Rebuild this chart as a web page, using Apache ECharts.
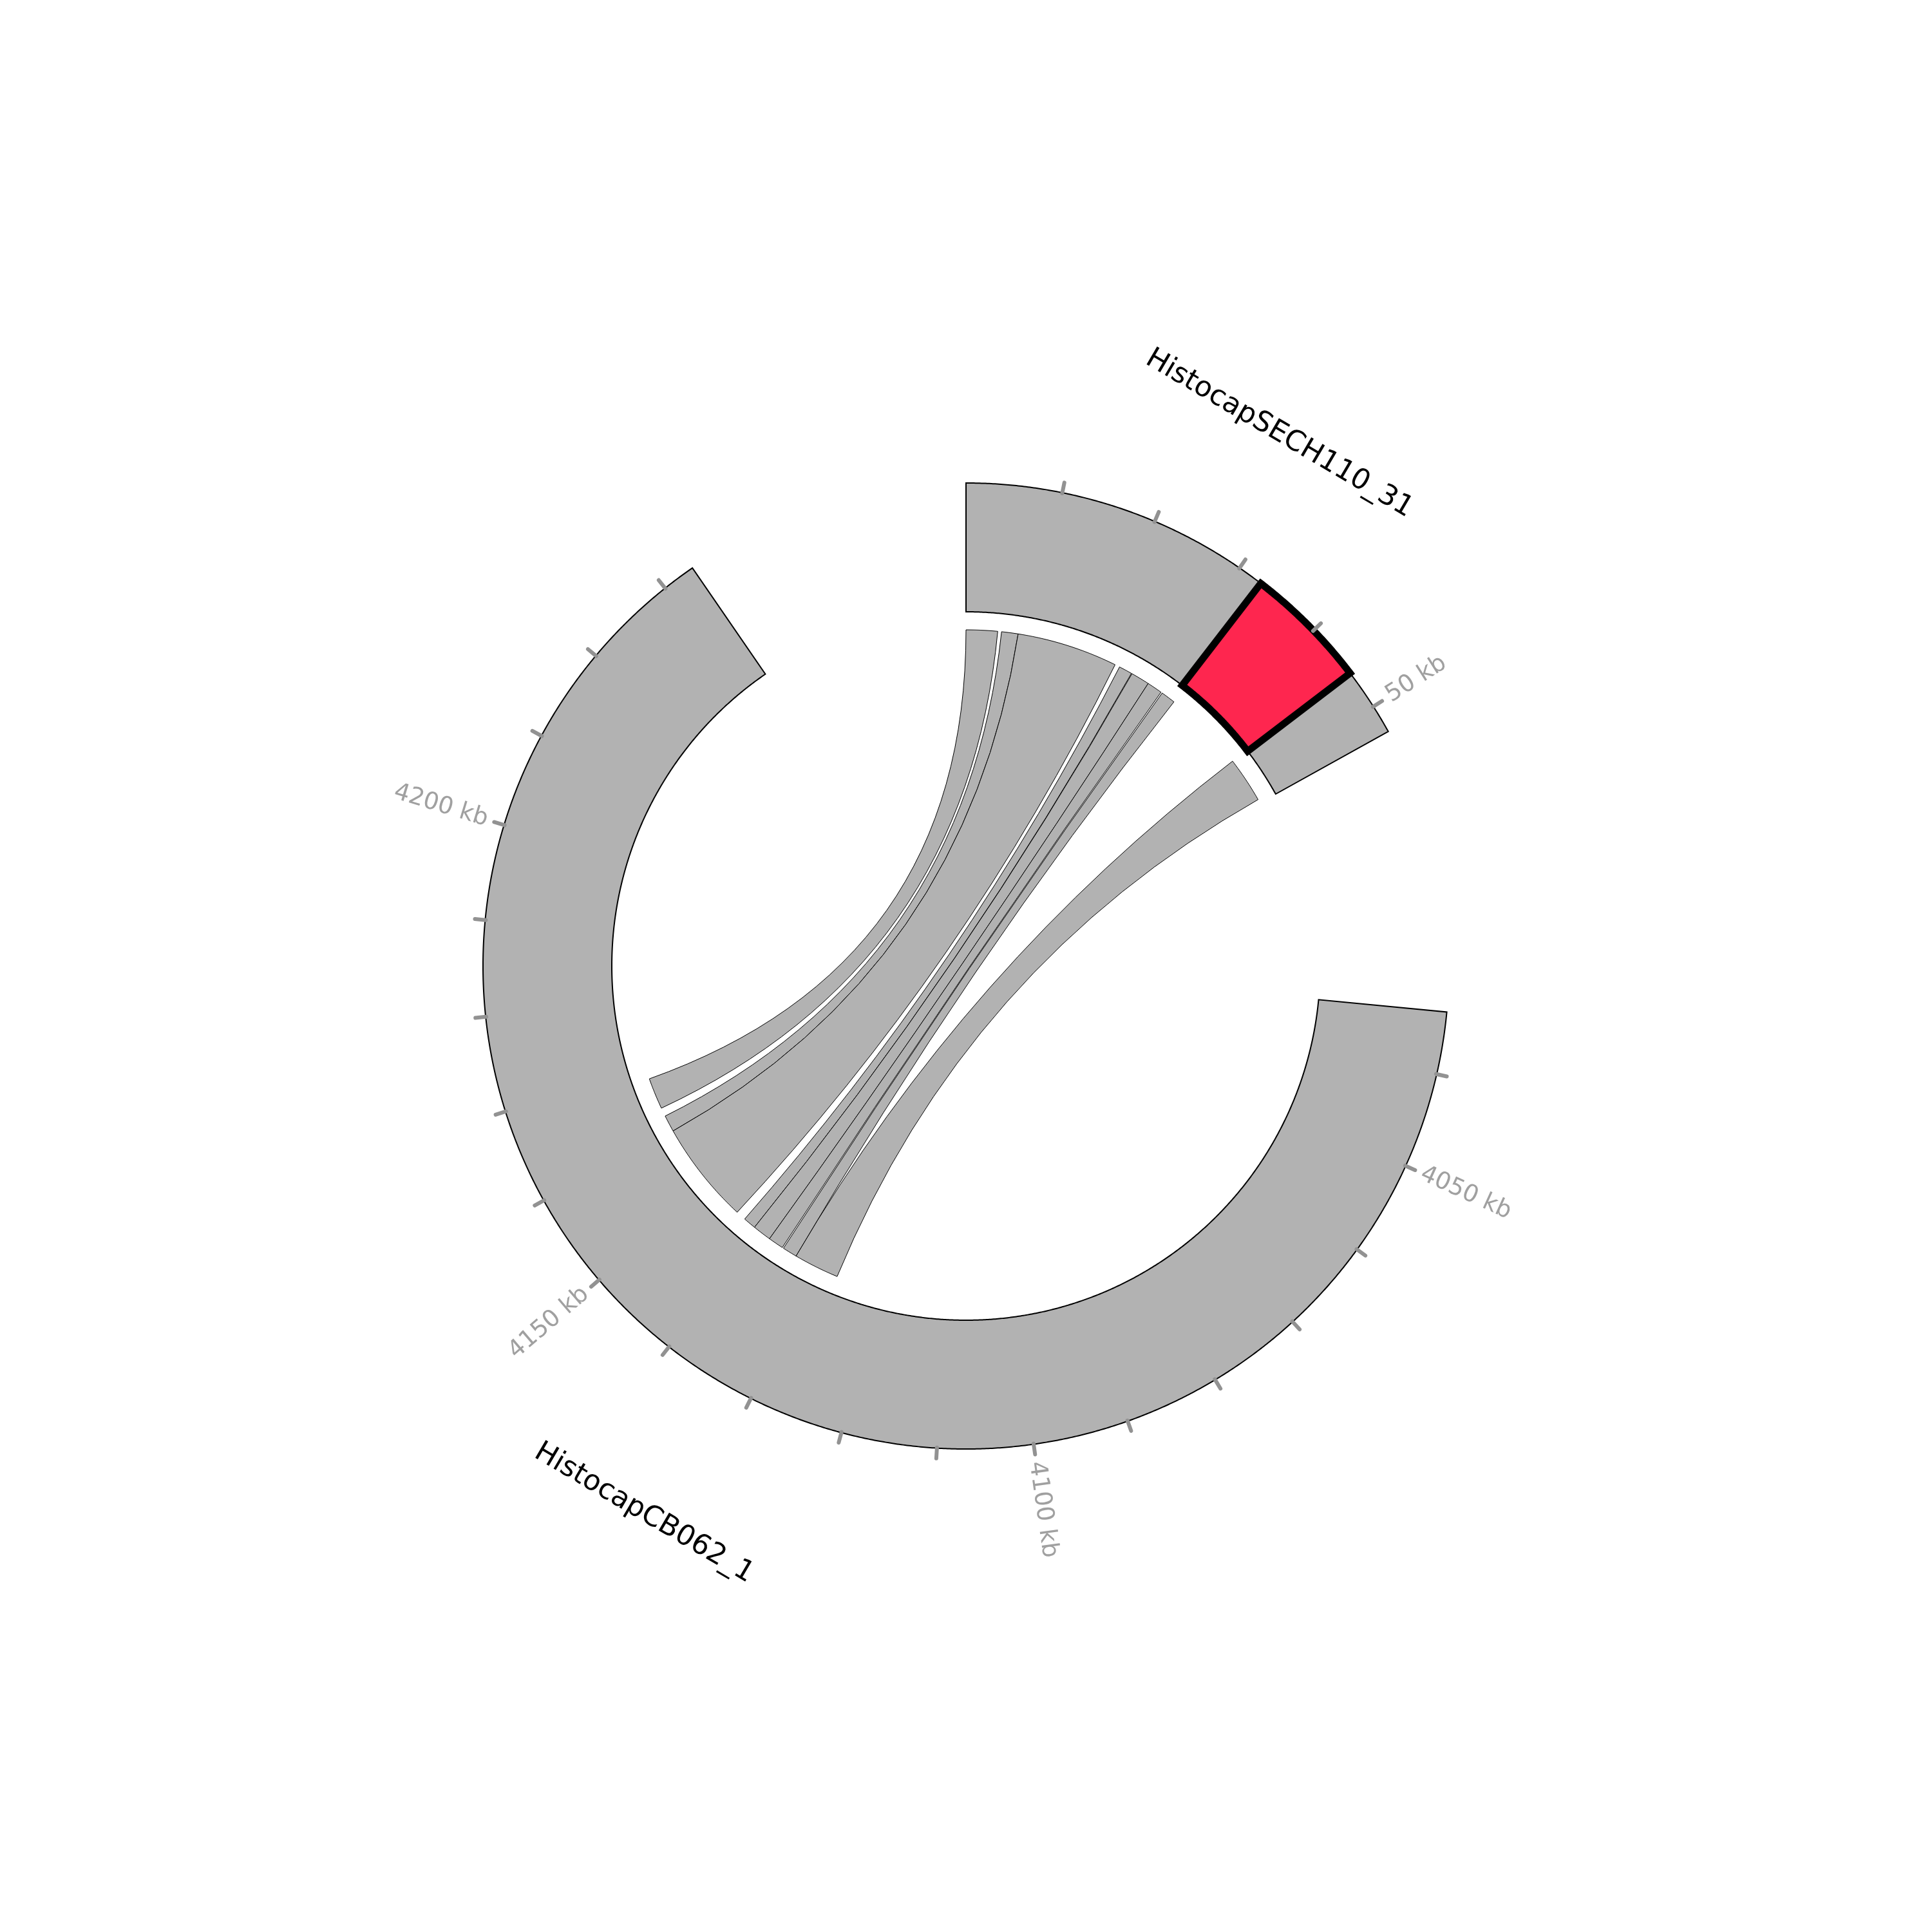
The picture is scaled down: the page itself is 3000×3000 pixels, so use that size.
<!DOCTYPE html>
<html><head><meta charset="utf-8">
<script src="https://cdn.jsdelivr.net/npm/echarts@6/dist/echarts.min.js"></script>
<style>html,body{margin:0;padding:0;background:#fff}#c{width:3000px;height:3000px}</style>
</head><body><div id="c"></div>
<script>
// ---- data (kb) ----
const segmentNames   = ['HistocapSECH110_31', 'HistocapCB062_1'];
const segmentStartKb = [0, 4033.5];
const segmentEndKb   = [53, 4233.5];

// links: source on segment 0, target on segment 1
const linkSrcStart = [0,    5.28, 7.76,  23.63, 25.73, 28.53, 31.04, 45.61];
const linkSrcEnd   = [4.71, 7.76, 22.89, 25.63, 28.53, 30.83, 33.22, 52.45];
const linkDstStart = [4163.5, 4159.7, 4144.3, 4140.9, 4138.1, 4135.8, 4133.4, 4126.6];
const linkDstEnd   = [4168.2, 4162.2, 4159.7, 4142.8, 4140.9, 4138.1, 4135.6, 4133.4];

// highlighted region
const highlightSeg   = [0];
const highlightStart = [32.7];
const highlightEnd   = [45.8];

// ticks
const tickSeg0 = [10, 20, 30, 40, 50];
const tickSeg1 = [4040, 4050, 4060, 4070, 4080, 4090, 4100, 4110, 4120, 4130, 4140, 4150, 4160, 4170, 4180, 4190, 4200, 4210, 4220, 4230];
const labelSeg0 = [50];
const labelSeg1 = [4050, 4100, 4150, 4200];

// ---- layout ----
const GAP_KB = 30;
const segLen = segmentStartKb.map((s, i) => segmentEndKb[i] - s);
const segAxisStart = [];
let acc = 0;
segLen.forEach(l => { segAxisStart.push(acc); acc += l + GAP_KB; });
const AXIS_MAX = acc;
function toAxis(seg, kb) { return segAxisStart[seg] + kb - segmentStartKb[seg]; }

const R_OUT = 750, R_IN = 550, R_LINK = 522, TICK_IN = 749, TICK_OUT = 766, TICK_LBL = 777;
const GRAY = '#b2b2b2';
const FONT = '"DejaVu Sans", sans-serif';

function arcPts(api, r, a0, a1) {
  const n = Math.max(2, Math.ceil(Math.abs(a1 - a0) / 0.2));
  const pts = [];
  for (let i = 0; i <= n; i++) pts.push(api.coord([r, a0 + (a1 - a0) * i / n]));
  return pts;
}
function thetaOf(api, p) {
  const c = api.coord([0, 0]);
  let t = Math.atan2(p[0] - c[0], -(p[1] - c[1])) * 180 / Math.PI;
  if (t < 0) t += 360;
  return t;
}
function bandPolygon(api, a0, a1, rIn, rOut) {
  return arcPts(api, rOut, a0, a1).concat(arcPts(api, rIn, a1, a0));
}

const tickItems = [];
tickSeg0.forEach(v => tickItems.push([0, v]));
tickSeg1.forEach(v => tickItems.push([1, v]));
const labelItems = [];
labelSeg0.forEach(v => labelItems.push([0, v]));
labelSeg1.forEach(v => labelItems.push([1, v]));

const chart = echarts.init(document.getElementById('c'), null, { renderer: 'canvas', width: 3000, height: 3000 });
const option = {
  backgroundColor: '#ffffff',
  animation: false,
  polar: { center: ['50%', '50%'], radius: R_OUT },
  angleAxis: {
    type: 'value', min: 0, max: AXIS_MAX, startAngle: 90, clockwise: true,
    axisLine: { show: false }, axisTick: { show: false }, axisLabel: { show: false }, splitLine: { show: false }
  },
  radiusAxis: {
    type: 'value', min: 0, max: R_OUT,
    axisLine: { show: false }, axisTick: { show: false }, axisLabel: { show: false }, splitLine: { show: false }
  },
  series: [
    { // segment tracks
      type: 'custom', coordinateSystem: 'polar', clip: false, z: 1,
      data: segmentNames.map((n, i) => [i]),
      renderItem: (params, api) => {
        const i = params.dataIndex;
        const pts = bandPolygon(api, toAxis(i, segmentStartKb[i]), toAxis(i, segmentEndKb[i]), R_IN, R_OUT);
        return { type: 'polygon', shape: { points: pts }, style: { fill: GRAY, stroke: '#000', lineWidth: 2, lineJoin: 'miter' } };
      }
    },
    { // links
      type: 'custom', coordinateSystem: 'polar', clip: false, z: 2,
      data: linkSrcStart.map((v, i) => [i]),
      renderItem: (params, api) => {
        const i = params.dataIndex;
        const s0 = toAxis(0, linkSrcStart[i]), s1 = toAxis(0, linkSrcEnd[i]);
        const d0 = toAxis(1, linkDstStart[i]), d1 = toAxis(1, linkDstEnd[i]);
        const c = api.coord([0, 0]);
        const A = arcPts(api, R_LINK, s0, s1);
        const B = arcPts(api, R_LINK, d0, d1);
        let p = 'M' + A[0][0] + ' ' + A[0][1];
        for (let k = 1; k < A.length; k++) p += ' L' + A[k][0] + ' ' + A[k][1];
        p += ' Q' + c[0] + ' ' + c[1] + ' ' + B[0][0] + ' ' + B[0][1];
        for (let k = 1; k < B.length; k++) p += ' L' + B[k][0] + ' ' + B[k][1];
        p += ' Q' + c[0] + ' ' + c[1] + ' ' + A[0][0] + ' ' + A[0][1] + ' Z';
        return { type: 'path', shape: { pathData: p }, style: { fill: GRAY, stroke: '#000', lineWidth: 1 } };
      }
    },
    { // highlight
      type: 'custom', coordinateSystem: 'polar', clip: false, z: 3,
      data: highlightSeg.map((v, i) => [i]),
      renderItem: (params, api) => {
        const i = params.dataIndex, sg = highlightSeg[i];
        const pts = bandPolygon(api, toAxis(sg, highlightStart[i]), toAxis(sg, highlightEnd[i]), R_IN, R_OUT);
        return { type: 'polygon', shape: { points: pts }, style: { fill: '#fe264f', stroke: '#000', lineWidth: 11, lineJoin: 'miter' } };
      }
    },
    { // ticks
      type: 'custom', coordinateSystem: 'polar', clip: false, z: 4,
      data: tickItems.map((t, i) => [i]),
      renderItem: (params, api) => {
        const t = tickItems[params.dataIndex];
        const a = toAxis(t[0], t[1]);
        const p0 = api.coord([TICK_IN, a]), p1 = api.coord([TICK_OUT, a]);
        return { type: 'line', shape: { x1: p0[0], y1: p0[1], x2: p1[0], y2: p1[1] }, style: { stroke: '#929292', lineWidth: 6, lineCap: 'round' } };
      }
    },
    { // tick labels
      type: 'custom', coordinateSystem: 'polar', clip: false, z: 5,
      data: labelItems.map((t, i) => [i]),
      renderItem: (params, api) => {
        const t = labelItems[params.dataIndex];
        const a = toAxis(t[0], t[1]);
        const p = api.coord([TICK_LBL, a]);
        const th = thetaOf(api, p);
        const right = th < 180;
        const rot = (right ? 90 - th : 270 - th) * Math.PI / 180;
        return { type: 'text', x: p[0], y: p[1], rotation: rot,
          style: { text: t[1] + ' kb', fill: '#a0a0a0', font: '37px ' + FONT, textAlign: right ? 'left' : 'right', verticalAlign: 'middle' } };
      }
    },
    { // segment names
      type: 'custom', coordinateSystem: 'polar', clip: false, z: 5,
      data: segmentNames.map((n, i) => [i]),
      renderItem: (params, api) => {
        const i = params.dataIndex;
        const a = (toAxis(i, segmentStartKb[i]) + toAxis(i, segmentEndKb[i])) / 2;
        const probe = api.coord([R_OUT, a]);
        const th = thetaOf(api, probe);
        const bottom = th > 90 && th < 270;
        const p = api.coord([bottom ? 986 : 959, a]);
        const rot = (bottom ? 180 - th : -th) * Math.PI / 180;
        return { type: 'text', x: p[0], y: p[1], rotation: rot,
          style: { text: segmentNames[i], fill: '#000', font: '44px ' + FONT, textAlign: 'center', verticalAlign: 'middle' } };
      }
    }
  ]
};
chart.setOption(option);
</script>
</body></html>
